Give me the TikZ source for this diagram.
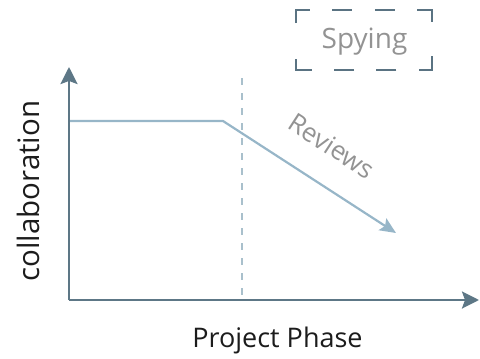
\documentclass[tikz,border=0pt]{standalone}
\usepackage{fontspec}
\setmainfont{Open Sans}
\usetikzlibrary{arrows.meta}
\definecolor{axisc}{HTML}{5D7786}
\definecolor{trendc}{HTML}{97B6C8}
\definecolor{phasec}{HTML}{A9C0CC}
\definecolor{boxc}{HTML}{5A7382}
\definecolor{labelc}{HTML}{1C1C1C}
\definecolor{softtext}{HTML}{939393}
\tikzset{
  axisline/.style={draw=axisc, line width=2.6pt,
    -{Stealth[length=17pt, width=17pt, inset=3pt]}},
  trendline/.style={draw=trendc, line width=2.2pt, line join=miter,
    -{Stealth[length=16pt, width=14pt, inset=3pt]}},
  phaseline/.style={draw=phasec, line width=1.8pt, dash pattern=on 7pt off 8pt},
  spyframe/.style={draw=boxc, line width=2pt, line join=miter,
    dash pattern=on 27.5pt off 22.33pt on 20pt off 22.33pt on 20pt off 22.33pt on 27.5pt off 34pt,
    dash phase=179pt},
  axislabel/.style={text=labelc, inner sep=0pt},
  softlabel/.style={text=softtext, inner sep=0pt},
}
\begin{document}
\begin{tikzpicture}[x=1pt, y=-1pt]
  \useasboundingbox (0,0) rectangle (480,359);
  % axes
  \coordinate (o) at (69,300);
  \coordinate (ytip) at (69,67);
  \coordinate (xtip) at (479,300);
  % trend and phase boundary
  \coordinate (start) at (69,121);
  \coordinate (knee) at (223,121);
  \coordinate (trendend) at (396,233);
  \coordinate (ptop) at (242,78);
  \coordinate (pbot) at (242,300);

  \draw[phaseline] (ptop) -- (pbot);
  \draw[trendline] (start) -- (knee) -- (trendend);
  \draw[axisline] (o) -- (ytip);
  \draw[axisline] (o) -- (xtip);

  % labels
  \node[axislabel, rotate=90, font=\fontsize{29.5}{32}\selectfont] (ylab) at (28,191) {collaboration};
  \node[axislabel, anchor=base, font=\fontsize{27}{30}\selectfont] (xlab) at (277.5,347) {Project Phase};
  \node[softlabel, rotate=-33, font=\fontsize{26}{29}\selectfont] (rev) at (332,146) {Reviews};

  % the spying box
  \node[softlabel, minimum width=136pt, minimum height=60pt] (spy) at (364,40) {};
  \node[softlabel, anchor=base, font=\fontsize{28}{32}\selectfont] (spytext) at (364.5,48) {Spying};
  \draw[spyframe] (spy.west) -- (spy.north west) -- (spy.north east)
    -- (spy.south east) -- (spy.south west) -- cycle;
\end{tikzpicture}
\end{document}
